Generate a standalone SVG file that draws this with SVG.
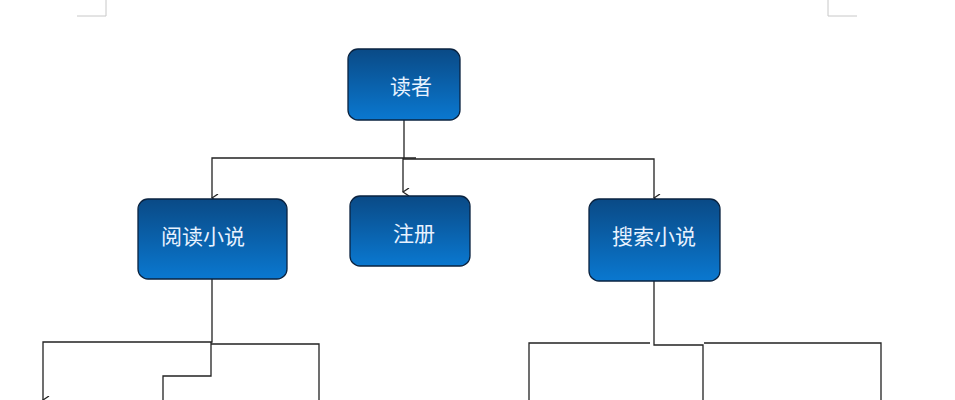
<svg xmlns="http://www.w3.org/2000/svg" width="955" height="400" viewBox="0 0 955 400">
<style>
.node{fill:url(#g);stroke:#0a2340;stroke-width:1.3}
.t{font-family:"Noto Sans CJK SC",sans-serif;font-size:21px;fill:#e8f2ff;text-anchor:middle}
.c{fill:none;stroke:#222;stroke-width:1.3}
.m{fill:none;stroke:#c8c8c8;stroke-width:1}
</style>
<defs>
<linearGradient id="g" x1="0" y1="0" x2="0" y2="1"><stop offset="0" stop-color="#0a4a86"/><stop offset="1" stop-color="#0a78d0"/></linearGradient>
<marker id="a" markerWidth="8" markerHeight="8" refX="4" refY="7" orient="auto-start-reverse" markerUnits="userSpaceOnUse" viewBox="0 0 8 8"><path d="M0,1 L4,7 L8,1" fill="none" stroke="#222" stroke-width="1.3"/></marker>
</defs>
<rect width="955" height="400" fill="#fff"/>
<path class="m" d="M106,0 V16 H77 M828,0 V16 H857"/>
<g id="connectors">
<path class="c" d="M404,120 V158"/>
<path class="c" d="M403,158 V192" marker-end="url(#a)"/>
<path class="c" d="M416,158 H212 V198" marker-end="url(#a)"/>
<path class="c" d="M403,159 H654 V198" marker-end="url(#a)"/>
<path class="c" d="M212,279 V342 H43 V400" marker-end="url(#a)"/>
<path class="c" d="M211,344 H319 V400"/>
<path class="c" d="M211,342 V376 H163 V400"/>
<path class="c" d="M654,281 V345 H703 V400"/>
<path class="c" d="M650,343 H529 V400"/>
<path class="c" d="M704,343 H881 V400"/>
</g>
<g id="n1"><rect class="node" x="348" y="49" width="112" height="71" rx="10"/><text class="t" x="411" y="94">读者</text></g>
<g id="n2"><rect class="node" x="138" y="199" width="149" height="80" rx="10"/><text class="t" x="203" y="244">阅读小说</text></g>
<g id="n3"><rect class="node" x="350" y="196" width="120" height="70" rx="10"/><text class="t" x="414" y="241">注册</text></g>
<g id="n4"><rect class="node" x="589" y="199" width="131" height="82" rx="10"/><text class="t" x="654" y="244">搜索小说</text></g>
</svg>
